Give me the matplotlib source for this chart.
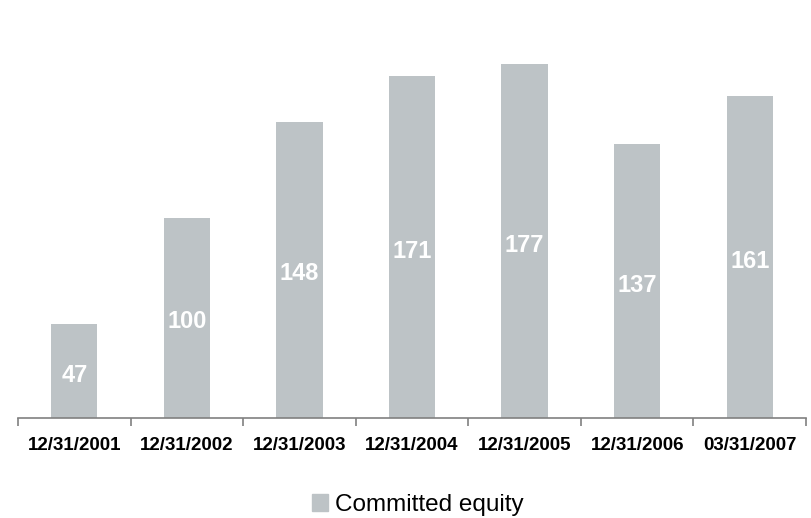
import numpy as np
import matplotlib.pyplot as plt
from matplotlib.patches import Patch

plt.rcParams['font.family'] = ['Liberation Sans', 'DejaVu Sans']

dates = ["12/31/2001", "12/31/2002", "12/31/2003", "12/31/2004",
         "12/31/2005", "12/31/2006", "03/31/2007"]
committed = [47, 100, 148, 171, 177, 137, 161]
bar_color = "#BDC3C6"

fig = plt.figure(figsize=(8.12, 5.18), dpi=100)
ax = fig.add_axes([18 / 812, 100 / 518, 788 / 812, 400 / 518])

x = np.arange(len(dates))
ax.bar(x, committed, width=0.41, color=bar_color)
for xi, v in zip(x, committed):
    ax.text(xi, v / 2 - 2, str(v), ha='center', va='center', color='white',
            fontsize=17, fontweight='bold')

ax.set_xlim(-0.5, len(dates) - 0.5)
ax.set_ylim(0, 200)
for s in ['top', 'right', 'left']:
    ax.spines[s].set_visible(False)
ax.spines['bottom'].set_color('#808080')
ax.spines['bottom'].set_linewidth(1.2)
ax.set_yticks([])
ax.set_xticks(x)
ax.set_xticklabels(dates, fontsize=13.5, fontweight='bold')
ax.tick_params(axis='x', which='major', length=0, pad=14)
ax.set_xticks(np.arange(-0.5, len(dates)), minor=True)
ax.tick_params(axis='x', which='minor', length=6, color='#808080', width=1.2)

fig.legend(handles=[Patch(color=bar_color, label='Committed equity')],
           loc='center', bbox_to_anchor=(418 / 812, 13 / 518), frameon=False,
           fontsize=17.5, handlelength=0.66, handleheight=0.66,
           handletextpad=0.3)

fig.savefig('out.png', dpi=100)
